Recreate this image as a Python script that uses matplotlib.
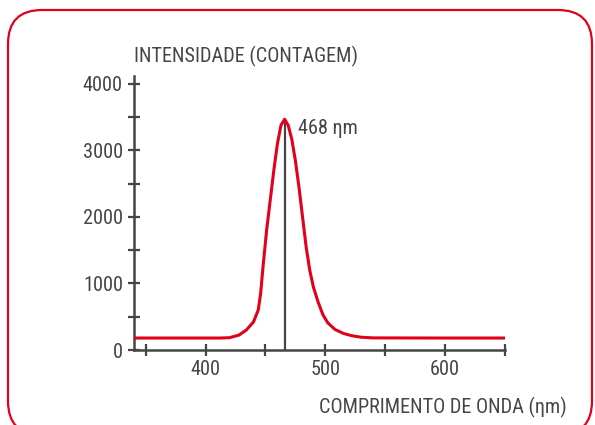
import matplotlib
matplotlib.use("Agg")
import matplotlib.pyplot as plt
from matplotlib.patches import FancyBboxPatch
from matplotlib.ticker import MultipleLocator

# Data
wavelength = [340, 380, 412, 420, 428, 434, 440, 444, 446, 448, 451, 454, 457,
              460, 463, 466, 469, 472, 475, 478, 481, 484, 487, 490, 494, 498,
              502, 508, 515, 522, 530, 540, 600, 650]
intensity = [180, 180, 180, 185, 225, 300, 420, 600, 850, 1250, 1800, 2250, 2700,
             3100, 3380, 3470, 3380, 3170, 2850, 2450, 2000, 1550, 1200, 950, 720, 530,
             410, 310, 250, 215, 192, 182, 180, 180]
peak_nm = 466
peak_val = 3470
peak_label = "468 ηm"
x_ticks = [400, 500, 600]
y_ticks = [0, 1000, 2000, 3000, 4000]
y_label = "INTENSIDADE (CONTAGEM)"
x_label = "COMPRIMENTO DE ONDA (ηm)"

FONT = ["Roboto Condensed", "DejaVu Sans"]
plt.rcParams["font.family"] = FONT
plt.rcParams["font.weight"] = "normal"
GRAY = "#454545"
RED = "#e2001a"
FS = 14.6

W, H = 595, 425
fig = plt.figure(figsize=(W / 100, H / 100), dpi=100)

# background frame
bg = fig.add_axes([0, 0, 1, 1])
bg.set_xlim(0, W)
bg.set_ylim(H, 0)
bg.axis("off")
frame = FancyBboxPatch((8, 10), 584, 425, boxstyle="round,pad=0,rounding_size=34",
                       fc="white", ec=RED, lw=1.6)
bg.add_patch(frame)

# main axes (pixel-based placement)
x0, x1 = 134, 505
y_bot, y_top = 350, 76
ax = fig.add_axes([x0 / W, 1 - y_bot / H, (x1 - x0) / W, (y_bot - y_top) / H])
ax.patch.set_alpha(0)
ax.set_xlim(340.3, 650)
ax.set_ylim(0, 4120)

for s in ["top", "right"]:
    ax.spines[s].set_visible(False)
for s in ["left", "bottom"]:
    ax.spines[s].set_color(GRAY)
    ax.spines[s].set_linewidth(1.8)

ax.plot(wavelength, intensity, color=RED, lw=2.2, solid_joinstyle="round", zorder=3)
ax.vlines(peak_nm, 0, peak_val, color=GRAY, lw=1.6, zorder=2)
ax.annotate(peak_label, xy=(peak_nm, peak_val), xytext=(298 / W, 1 - 128 / H),
            textcoords="figure fraction", fontsize=FS, color=GRAY,
            va="center", ha="left")

ax.xaxis.set_minor_locator(MultipleLocator(50))
ax.set_xticks(x_ticks)
ax.yaxis.set_minor_locator(MultipleLocator(500))
ax.set_yticks(y_ticks)
ax.tick_params(which="both", direction="inout", length=8, width=1.6, color=GRAY,
               labelcolor=GRAY, labelsize=FS)
ax.tick_params(axis="x", pad=3)
ax.tick_params(axis="y", pad=4)

fig.text(134 / W, 1 - 56 / H, y_label, fontsize=FS, color=GRAY, ha="left", va="center")
fig.text(567 / W, 1 - 407.5 / H, x_label, fontsize=FS, color=GRAY, ha="right", va="center")

fig.savefig("out.png", dpi=100)
